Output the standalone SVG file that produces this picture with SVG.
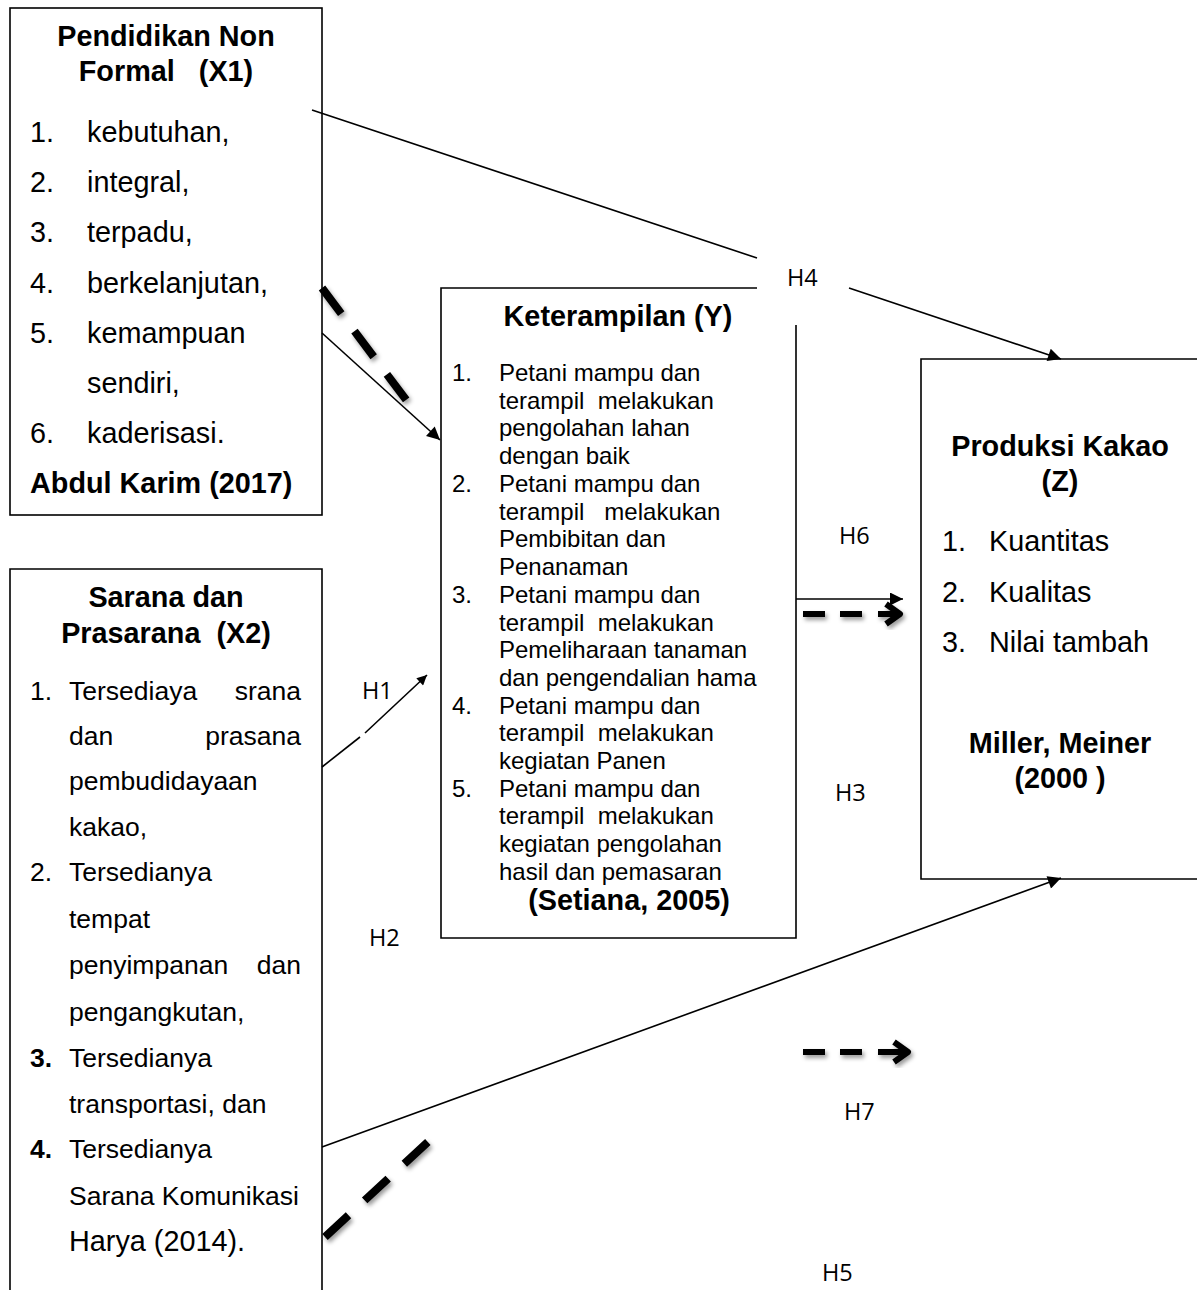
<svg xmlns="http://www.w3.org/2000/svg" width="1197" height="1290" viewBox="0 0 1197 1290">
<style>
.box{fill:none;stroke:#000;stroke-width:1.6}
.t{font-family:"Liberation Sans",Arial,sans-serif;fill:#000}
.b{font-weight:bold;font-size:28.8px}
.r{font-size:28.8px}
.s{font-size:26.5px}
.y{font-size:24px}
.h{font-family:"Open Sans","DejaVu Sans",sans-serif;font-size:23.5px;fill:#000}
.c{text-anchor:middle}
.e{text-anchor:end}
.ln{stroke:#000;stroke-width:1.6;fill:none}
.dt{stroke:#000;stroke-width:8;fill:none;stroke-dasharray:32 22}
.dh{stroke:#000;stroke-width:6;fill:none;stroke-linecap:butt}
</style>
<defs>
<marker id="arr" viewBox="0 0 10 10" refX="10" refY="5" markerWidth="18" markerHeight="13" markerUnits="userSpaceOnUse" orient="auto">
<path d="M0,0 L10,5 L0,10 z" fill="#000"/>
</marker>
<marker id="arrs" viewBox="0 0 10 10" refX="10" refY="5" markerWidth="13" markerHeight="10" markerUnits="userSpaceOnUse" orient="auto">
<path d="M0,0 L10,5 L0,10 z" fill="#000"/>
</marker>
<filter id="sh" x="-30%" y="-30%" width="160%" height="160%">
<feDropShadow dx="2" dy="3" stdDeviation="2" flood-color="#000" flood-opacity="0.4"/>
</filter>
</defs>
<rect width="1197" height="1290" fill="#fff"/>

<g id="node-x1">
<rect class="box" x="10" y="8" width="312" height="507"/>
<text class="t b c" x="166" y="46">Pendidikan Non</text>
<text class="t b c" x="166" y="81" xml:space="preserve">Formal   (X1)</text>
<text class="t r" x="30" y="142">1.</text><text class="t r" x="87" y="142">kebutuhan,</text>
<text class="t r" x="30" y="192">2.</text><text class="t r" x="87" y="192">integral,</text>
<text class="t r" x="30" y="242">3.</text><text class="t r" x="87" y="242">terpadu,</text>
<text class="t r" x="30" y="293">4.</text><text class="t r" x="87" y="293">berkelanjutan,</text>
<text class="t r" x="30" y="343">5.</text><text class="t r" x="87" y="343">kemampuan</text>
<text class="t r" x="87" y="393">sendiri,</text>
<text class="t r" x="30" y="443">6.</text><text class="t r" x="87" y="443">kaderisasi.</text>
<text class="t b" x="30" y="493">Abdul Karim (2017)</text>
</g>

<g id="node-x2">
<path class="box" d="M10,1290 V569 H322 V1290"/>
<text class="t b c" x="166" y="607">Sarana dan</text>
<text class="t b c" x="166" y="643" xml:space="preserve">Prasarana  (X2)</text>
<text class="t s" x="30" y="700">1.</text><text class="t s" x="69" y="700">Tersediaya</text><text class="t s e" x="301" y="700">srana</text>
<text class="t s" x="69" y="745">dan</text><text class="t s e" x="301" y="745">prasana</text>
<text class="t s" x="69" y="790">pembudidayaan</text>
<text class="t s" x="69" y="836">kakao,</text>
<text class="t s" x="30" y="881">2.</text><text class="t s" x="69" y="881">Tersedianya</text>
<text class="t s" x="69" y="928">tempat</text>
<text class="t s" x="69" y="974">penyimpanan</text><text class="t s e" x="301" y="974">dan</text>
<text class="t s" x="69" y="1021">pengangkutan,</text>
<text class="t s" x="30" y="1067" font-weight="bold">3.</text><text class="t s" x="69" y="1067">Tersedianya</text>
<text class="t s" x="69" y="1113">transportasi, dan</text>
<text class="t s" x="30" y="1158" font-weight="bold">4.</text><text class="t s" x="69" y="1158">Tersedianya</text>
<text class="t s" x="69" y="1205">Sarana Komunikasi</text>
<text class="t r" x="69" y="1251">Harya (2014).</text>
</g>

<g id="node-y">
<path class="box" d="M757,288 H441 V938 H796 V325"/>
<text class="t b c" x="618" y="326">Keterampilan (Y)</text>
<text class="t y" x="452" y="381">1.</text><text class="t y" x="499" y="381">Petani mampu dan</text>
<text class="t y" x="499" y="409" xml:space="preserve">terampil  melakukan</text>
<text class="t y" x="499" y="436">pengolahan lahan</text>
<text class="t y" x="499" y="464">dengan baik</text>
<text class="t y" x="452" y="492">2.</text><text class="t y" x="499" y="492">Petani mampu dan</text>
<text class="t y" x="499" y="520" xml:space="preserve">terampil   melakukan</text>
<text class="t y" x="499" y="547">Pembibitan dan</text>
<text class="t y" x="499" y="575">Penanaman</text>
<text class="t y" x="452" y="603">3.</text><text class="t y" x="499" y="603">Petani mampu dan</text>
<text class="t y" x="499" y="631" xml:space="preserve">terampil  melakukan</text>
<text class="t y" x="499" y="658">Pemeliharaan tanaman</text>
<text class="t y" x="499" y="686">dan pengendalian hama</text>
<text class="t y" x="452" y="714">4.</text><text class="t y" x="499" y="714">Petani mampu dan</text>
<text class="t y" x="499" y="741" xml:space="preserve">terampil  melakukan</text>
<text class="t y" x="499" y="769">kegiatan Panen</text>
<text class="t y" x="452" y="797">5.</text><text class="t y" x="499" y="797">Petani mampu dan</text>
<text class="t y" x="499" y="824" xml:space="preserve">terampil  melakukan</text>
<text class="t y" x="499" y="852">kegiatan pengolahan</text>
<text class="t y" x="499" y="880">hasil dan pemasaran</text>
<text class="t b c" x="629" y="910">(Setiana, 2005)</text>
</g>

<g id="node-z">
<path class="box" d="M1200,359 H921 V879 H1200"/>
<text class="t b c" x="1060" y="456">Produksi Kakao</text>
<text class="t b c" x="1060" y="491">(Z)</text>
<text class="t r" x="942" y="551">1.</text><text class="t r" x="989" y="551">Kuantitas</text>
<text class="t r" x="942" y="602">2.</text><text class="t r" x="989" y="602">Kualitas</text>
<text class="t r" x="942" y="652">3.</text><text class="t r" x="989" y="652">Nilai tambah</text>
<text class="t b c" x="1060" y="753">Miller, Meiner</text>
<text class="t b c" x="1060" y="788" xml:space="preserve">(2000 )</text>
</g>

<g id="connectors">
<line class="ln" x1="312" y1="110" x2="757" y2="258"/>
<line class="ln" x1="849" y1="288" x2="1061" y2="359" marker-end="url(#arr)"/>
<line class="ln" x1="322" y1="333" x2="440" y2="440" marker-end="url(#arr)"/>
<line class="dt" x1="322" y1="288" x2="410" y2="405" filter="url(#sh)"/>
<line class="ln" x1="322" y1="767" x2="360" y2="737"/>
<line class="ln" x1="365" y1="733" x2="427" y2="675" marker-end="url(#arrs)"/>
<line class="ln" x1="796" y1="599" x2="903" y2="599" marker-end="url(#arr)"/>
<g filter="url(#sh)">
<line class="dh" x1="803" y1="614" x2="825" y2="614"/>
<line class="dh" x1="840" y1="614" x2="862" y2="614"/>
<line class="dh" x1="878" y1="614" x2="898" y2="614"/>
<polyline class="dh" points="886,604 900,614 886,624" stroke-linejoin="round" stroke-linecap="round"/>
</g>
<line class="ln" x1="322" y1="1147" x2="1061" y2="878" marker-end="url(#arr)"/>
<line class="dt" x1="325" y1="1237" x2="430" y2="1140" filter="url(#sh)"/>
<g filter="url(#sh)">
<line class="dh" x1="803" y1="1052" x2="825" y2="1052"/>
<line class="dh" x1="840" y1="1052" x2="862" y2="1052"/>
<line class="dh" x1="878" y1="1052" x2="906" y2="1052"/>
<polyline class="dh" points="894,1042 908,1052 894,1062" stroke-linejoin="round" stroke-linecap="round"/>
</g>
</g>

<g id="labels">
<text class="h" x="787" y="286">H4</text>
<text class="h" x="839" y="544">H6</text>
<text class="h" x="835" y="801">H3</text>
<text class="h" x="362" y="699">H1</text>
<text class="h" x="369" y="946">H2</text>
<text class="h" x="844" y="1120">H7</text>
<text class="h" x="822" y="1281">H5</text>
</g>
</svg>
